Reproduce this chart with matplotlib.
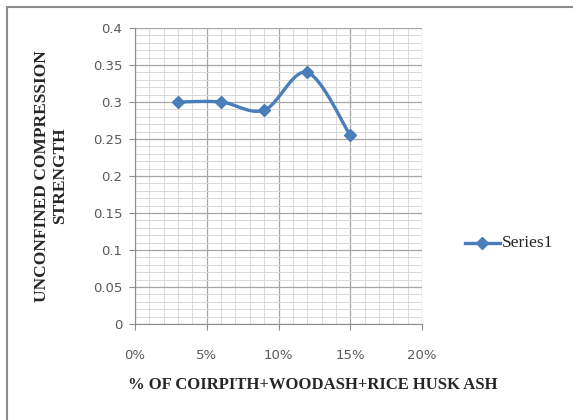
import numpy as np
import matplotlib.pyplot as plt
from matplotlib.ticker import MultipleLocator, FuncFormatter
from matplotlib.patches import Rectangle

# data
pct = [0.03, 0.06, 0.09, 0.12, 0.15]
ucs = [0.30, 0.30, 0.289, 0.34, 0.255]

blue = '#4a7ebb'


def smooth(x, y, n=30):
    # Catmull-Rom style curve like the Excel "smoothed line"
    x = np.asarray(x, float)
    y = np.asarray(y, float)
    px = np.concatenate([[x[0]], x, [x[-1]]])
    py = np.concatenate([[y[0]], y, [y[-1]]])
    xs, ys = [], []
    t = np.linspace(0, 1, n)
    for i in range(1, len(px) - 2):
        p0 = np.array([px[i], py[i]])
        p3 = np.array([px[i + 1], py[i + 1]])
        c1 = p0 + (np.array([px[i + 1], py[i + 1]]) - np.array([px[i - 1], py[i - 1]])) / 6
        c2 = p3 - (np.array([px[i + 2], py[i + 2]]) - np.array([px[i], py[i]])) / 6
        b = ((1 - t) ** 3)[:, None] * p0 + (3 * (1 - t) ** 2 * t)[:, None] * c1 \
            + (3 * (1 - t) * t ** 2)[:, None] * c2 + (t ** 3)[:, None] * p3
        xs.extend(b[:, 0])
        ys.extend(b[:, 1])
    return xs, ys


fig = plt.figure(figsize=(5.73, 4.20), dpi=100)
fig.patch.set_facecolor('white')
fig.patches.append(Rectangle((7 / 573, -0.05), 1.1, 1 - 7 / 420 + 0.05,
                             transform=fig.transFigure, fill=False,
                             edgecolor='#8c8c8c', linewidth=1.5))

ax = fig.add_axes([135 / 573, 1 - 324 / 420, 287 / 573, 296 / 420])

sx, sy = smooth(pct, ucs)
ax.plot(sx, sy, color=blue, linewidth=2.4, zorder=3)
ax.plot(pct, ucs, linestyle='none', marker='D', markersize=6.5, color=blue, zorder=4)

ax.set_xlim(0, 0.20)
ax.set_ylim(0, 0.4)
ax.xaxis.set_major_locator(MultipleLocator(0.05))
ax.xaxis.set_minor_locator(MultipleLocator(0.01))
ax.yaxis.set_major_locator(MultipleLocator(0.05))
ax.yaxis.set_minor_locator(MultipleLocator(0.01))
ax.xaxis.set_major_formatter(FuncFormatter(lambda v, p: '%d%%' % round(v * 100)))
ax.yaxis.set_major_formatter(FuncFormatter(lambda v, p: ('%g' % round(v, 2))))

ax.grid(which='major', color='#a6a6a6', linewidth=0.9)
ax.grid(which='minor', color='#d9d9d9', linewidth=0.7)
ax.set_axisbelow(True)
for s in ['top', 'right']:
    ax.spines[s].set_visible(False)
for s in ['left', 'bottom']:
    ax.spines[s].set_color('#8c8c8c')
ax.tick_params(which='major', length=4, color='#8c8c8c', labelsize=9.5,
               labelcolor='#595959')
ax.tick_params(which='minor', length=0)
ax.tick_params(axis='x', pad=14)
ax.tick_params(axis='y', pad=5)
for lab in ax.get_xticklabels() + ax.get_yticklabels():
    lab.set_family('Liberation Sans Narrow')

fig.text(51 / 573, 1 - 176 / 420, 'UNCONFINED COMPRESSION\nSTRENGTH', rotation=90,
         ha='center', va='center', family='Liberation Serif', fontweight='bold',
         fontsize=12.5, linespacing=1.15, color='#262626')
fig.text(313 / 573, 1 - 385 / 420, '% OF COIRPITH+WOODASH+RICE HUSK ASH',
         ha='center', va='center', family='Liberation Serif', fontweight='bold',
         fontsize=12, color='#262626')

# legend
fig.lines.append(plt.Line2D([465 / 573, 500 / 573], [1 - 243 / 420] * 2,
                            transform=fig.transFigure, color=blue, linewidth=2.4))
fig.lines.append(plt.Line2D([482 / 573], [1 - 243 / 420], transform=fig.transFigure,
                            marker='D', markersize=6, color=blue))
fig.text(502 / 573, 1 - 243 / 420, 'Series1', ha='left', va='center',
         family='Liberation Serif', fontsize=12.5, color='#262626')

plt.savefig('out.png', dpi=100)
